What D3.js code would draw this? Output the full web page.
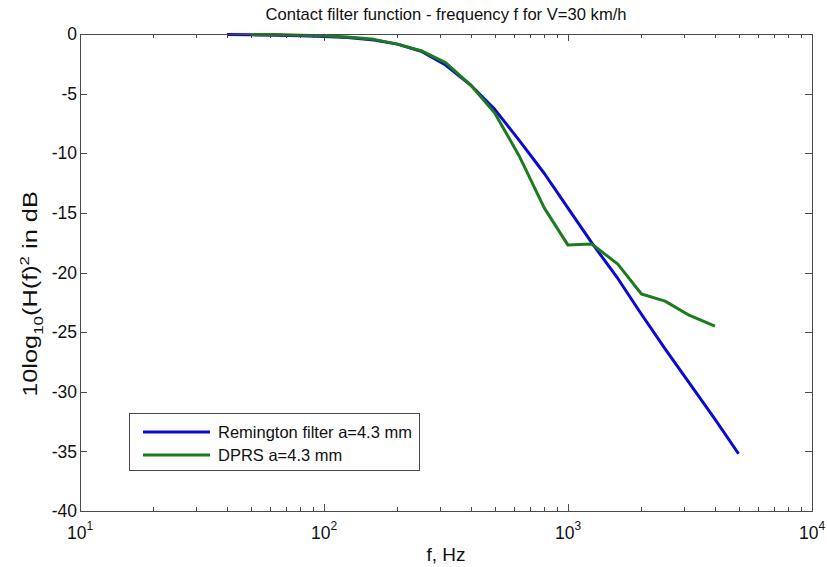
<!DOCTYPE html>
<html>
<head>
<meta charset="utf-8">
<script src="https://cdn.jsdelivr.net/npm/d3@7"></script>
<style>
  body { margin: 0; background: #fff; }
  svg { display: block; font-family: "Liberation Sans", Arial, sans-serif; }
</style>
</head>
<body>
<svg id="chart" width="827" height="567"></svg>
<script>
// ---- data ----
const remingtonFreq = [40, 50, 63, 80, 100, 125, 160, 200, 250, 315, 400, 500, 630, 800, 1000, 1250, 1600, 2000, 2500, 3150, 4000, 5000];
const remingtonDb   = [-0.05, -0.07, -0.1, -0.15, -0.2, -0.3, -0.5, -0.85, -1.45, -2.6, -4.3, -6.3, -8.9, -11.7, -14.6, -17.5, -20.5, -23.5, -26.4, -29.3, -32.3, -35.2];
const dprsFreq = [50, 63, 80, 100, 125, 160, 200, 250, 315, 400, 500, 630, 800, 1000, 1250, 1600, 2000, 2500, 3150, 4000];
const dprsDb   = [-0.05, -0.05, -0.1, -0.15, -0.25, -0.45, -0.85, -1.4, -2.4, -4.3, -6.6, -10.2, -14.6, -17.7, -17.6, -19.3, -21.8, -22.4, -23.6, -24.5];
const xTickExponents = [1, 2, 3, 4];
const yTicks = [0, -5, -10, -15, -20, -25, -30, -35, -40];
const seriesNames = ["Remington filter a=4.3 mm", "DPRS a=4.3 mm"];
const seriesColors = ["#0a0ad0", "#1c7c1c"];
const titleText = "Contact filter function - frequency f for V=30 km/h";
const xLabelText = "f, Hz";

// ---- layout ----
const svg = d3.select("#chart");
const pLeft = 80, pRight = 812, pTop = 34, pBottom = 511;
const x = d3.scaleLog().domain([10, 10000]).range([pLeft, pRight]);
const y = d3.scaleLinear().domain([-40, 0]).range([pBottom, pTop]);
const axisColor = "#4a4a4a";
const textColor = "#111";

// lines
const line = d3.line().x(d => x(d[0])).y(d => y(d[1]));
const series = [
  d3.zip(remingtonFreq, remingtonDb),
  d3.zip(dprsFreq, dprsDb)
];
const g = svg.append("g");
series.forEach((s, i) => {
  g.append("path").datum(s)
    .attr("d", line)
    .attr("fill", "none")
    .attr("stroke", seriesColors[i])
    .attr("stroke-width", 3)
    .attr("stroke-linejoin", "round");
});

// box
svg.append("rect")
  .attr("x", pLeft + 0.5).attr("y", pTop + 0.5)
  .attr("width", pRight - pLeft).attr("height", pBottom - pTop)
  .attr("fill", "none").attr("stroke", axisColor).attr("stroke-width", 1);

// ticks
const majorX = xTickExponents.map(e => Math.pow(10, e));
const minorX = [];
for (let e = 1; e < 4; e++) for (let m = 2; m <= 9; m++) minorX.push(m * Math.pow(10, e));
const tickG = svg.append("g").attr("stroke", axisColor).attr("stroke-width", 1);
majorX.forEach(v => {
  const xx = Math.round(x(v)) + 0.5;
  tickG.append("line").attr("x1", xx).attr("x2", xx).attr("y1", pBottom).attr("y2", pBottom - 7);
  tickG.append("line").attr("x1", xx).attr("x2", xx).attr("y1", pTop).attr("y2", pTop + 7);
});
minorX.forEach(v => {
  const xx = Math.round(x(v)) + 0.5;
  tickG.append("line").attr("x1", xx).attr("x2", xx).attr("y1", pBottom).attr("y2", pBottom - 4);
  tickG.append("line").attr("x1", xx).attr("x2", xx).attr("y1", pTop).attr("y2", pTop + 4);
});
yTicks.forEach(v => {
  const yy = Math.round(y(v)) + 0.5;
  tickG.append("line").attr("x1", pLeft).attr("x2", pLeft + 7).attr("y1", yy).attr("y2", yy);
  tickG.append("line").attr("x1", pRight).attr("x2", pRight - 7).attr("y1", yy).attr("y2", yy);
});

// y tick labels
svg.append("g").selectAll("text").data(yTicks).join("text")
  .attr("x", pLeft - 3).attr("y", d => y(d))
  .attr("dy", "0.35em")
  .attr("text-anchor", "end")
  .attr("font-size", 17.5)
  .attr("fill", textColor)
  .text(d => d);

// x tick labels 10^e
const xl = svg.append("g").selectAll("text").data(xTickExponents).join("text")
  .attr("x", d => x(Math.pow(10, d)))
  .attr("y", 539)
  .attr("text-anchor", "middle")
  .attr("font-size", 17.5)
  .attr("fill", textColor);
xl.append("tspan").text("10");
xl.append("tspan").attr("font-size", 12).attr("dy", -9).text(d => d);

// title
svg.append("text")
  .attr("x", (pLeft + pRight) / 2).attr("y", 20)
  .attr("text-anchor", "middle").attr("font-size", 16.6).attr("fill", textColor)
  .text(titleText);

// x label
svg.append("text")
  .attr("x", (pLeft + pRight) / 2).attr("y", 561)
  .attr("text-anchor", "middle").attr("font-size", 19).attr("fill", textColor)
  .text(xLabelText);

// y label (stretched along its length as in the reference)
const yl = svg.append("text")
  .attr("transform", `translate(37, 294) rotate(-90) scale(1.3, 1)`)
  .attr("text-anchor", "middle").attr("font-size", 19.5).attr("fill", textColor);
yl.append("tspan").text("10log");
yl.append("tspan").attr("font-size", 13).attr("dy", 6).text("10");
yl.append("tspan").attr("dy", -6).text("(H(f)");
yl.append("tspan").attr("font-size", 13).attr("dy", -8).text("2");
yl.append("tspan").attr("dy", 8).text(" in dB");

// legend
const lg = svg.append("g");
lg.append("rect")
  .attr("x", 129.5).attr("y", 413.5).attr("width", 290).attr("height", 57)
  .attr("fill", "#fff").attr("stroke", axisColor).attr("stroke-width", 1);
seriesNames.forEach((name, i) => {
  const yy = 432 + i * 23;
  lg.append("line").attr("x1", 143).attr("x2", 210).attr("y1", yy).attr("y2", yy)
    .attr("stroke", seriesColors[i]).attr("stroke-width", 3);
  lg.append("text").attr("x", 218).attr("y", yy).attr("dy", "0.35em")
    .attr("font-size", 16.5).attr("fill", textColor).text(name);
});
</script>
</body>
</html>
